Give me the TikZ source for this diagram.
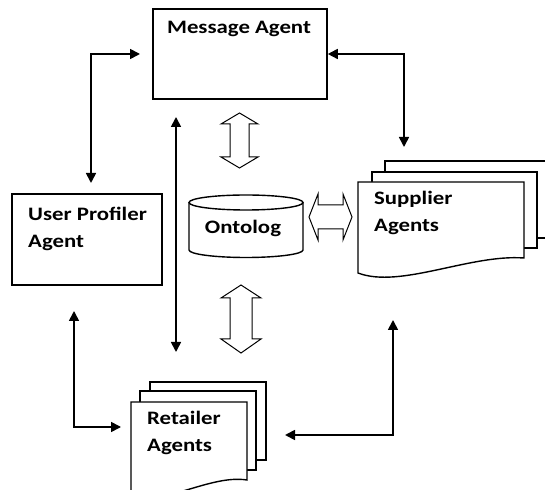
\documentclass[tikz,border=0pt]{standalone}
\usepackage{fontspec}
\setmainfont{Carlito}[FakeStretch=1.2]
\usetikzlibrary{arrows.meta}

\tikzset{
  box/.style={draw, line width=1.6pt, fill=white},
  page/.style={draw, line width=1.4pt, fill=white},
  lbl/.style={font=\bfseries\fontsize{19}{27}\selectfont, align=left, inner sep=0pt},
  link/.style={line width=1.7pt, {Triangle[length=10pt,width=10pt]}-{Triangle[length=10pt,width=10pt]}},
  hollow/.style={draw, line width=1pt, fill=white, line join=miter},
}

\begin{document}
\begin{tikzpicture}[x=1pt,y=1pt]
\clip (0,0) rectangle (545,489);
\fill[white] (0,0) rectangle (545,489);

% agent boxes
\node[box, minimum width=174pt, minimum height=90pt] (msg) at (240,435) {};
\node[lbl] (msgtxt) at (239,460) {Message Agent};
\node[box, minimum width=150pt, minimum height=91pt] (usr) at (87,249.5) {};
\node[lbl, anchor=west] (usrtxt) at (28,260) {User Profiler\\Agent};

% ontology store
\fill[white] (189,286.5) -- (189,239) arc[start angle=180, end angle=360, x radius=57, y radius=7.5] -- (303,286.5) -- cycle;
\draw[line width=1.4pt] (189,286.5) -- (189,239) arc[start angle=180, end angle=360, x radius=57, y radius=7.5] -- (303,286.5);
\draw[line width=1.4pt] (246,286.5) ellipse[x radius=57, y radius=7.5];
\node[lbl] (onto) at (243,261) {Ontolog};

% supplier pages
\draw[page] (385,251) rectangle (550,328);
\draw[page] (372,241) rectangle (537,317);
\draw[page] (358,216) -- (358,307) -- (524,307) -- (524,231)
  .. controls (470,235) and (400,200) .. (358,216) -- cycle;
\node[lbl, anchor=west] (sup) at (374,276) {Supplier\\Agents};

% retailer pages
\draw[page] (150,29) rectangle (266,107);
\draw[page] (140,19) rectangle (256,98);
\draw[page] (131,-4) -- (131,87) -- (247,87) -- (247,9)
  .. controls (209,15) and (160,-20) .. (131,-4) -- cycle;
\node[lbl, anchor=west] (ret) at (147,56.5) {Retailer\\Agents};

% hollow double arrows
\draw[hollow] (239.5,376) -- (258,365) -- (249,365) -- (249,332) -- (258,332) -- (239.5,321)
  -- (221,332) -- (230,332) -- (230,365) -- (221,365) -- cycle;
\draw[hollow] (241,204) -- (261,191) -- (252,191) -- (252,150) -- (261,150) -- (241,136)
  -- (221,150) -- (230,150) -- (230,191) -- (221,191) -- cycle;
\draw[hollow] (309,272) -- (318,295) -- (318,284) -- (343,284) -- (343,295) -- (352,272)
  -- (343,249) -- (343,260) -- (318,260) -- (318,249) -- cycle;

% message links
\coordinate (usr-top) at (91,306);
\coordinate (msg-left) at (140,435);
\coordinate (sup-top) at (404,342);
\coordinate (msg-low) at (176,372);
\coordinate (ret-high) at (176,137);
\coordinate (usr-low) at (74,178);
\coordinate (ret-left) at (121,62);
\coordinate (sup-low) at (393,169);
\coordinate (ret-right) at (285,54);

\draw[link] (usr-top) |- (msg-left);
\draw[link] (msg.east) -| (sup-top);
\draw[link] (msg-low) -- (ret-high);
\draw[link] (usr-low) |- (ret-left);
\draw[link] (sup-low) |- (ret-right);
\end{tikzpicture}
\end{document}
